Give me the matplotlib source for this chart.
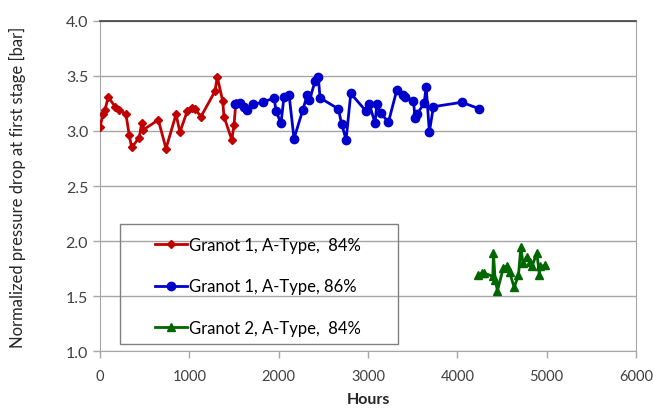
import matplotlib
matplotlib.use("Agg")
import matplotlib.pyplot as plt
from matplotlib.patches import Rectangle

plt.rcParams["font.family"] = ["Lato", "DejaVu Sans"]

# Granot 1, A-Type, 84%
red_hours = [0, 37, 56, 93, 168, 217, 291, 328, 355, 440, 467, 485, 653, 739,
             851, 895, 977, 1026, 1064, 1131, 1287, 1313, 1374, 1388, 1475, 1500,
             1520]
red_dp = [3.04, 3.15, 3.19, 3.31, 3.22, 3.19, 3.15, 2.96, 2.85, 2.94, 3.07, 3.01,
          3.10, 2.84, 3.15, 2.99, 3.18, 3.21, 3.20, 3.13, 3.36, 3.49, 3.27, 3.13,
          2.92, 3.05, 3.25]

# Granot 1, A-Type, 86%
blue_hours = [1511, 1567, 1613, 1649, 1716, 1822, 1950, 1970, 2026, 2060, 2116,
              2172, 2270, 2321, 2344, 2408, 2444, 2463, 2668, 2706, 2755, 2807,
              2978, 3016, 3079, 3099, 3143, 3229, 3322, 3389, 3415, 3509, 3527,
              3546, 3628, 3651, 3687, 3732, 4050, 4248]
blue_dp = [3.24, 3.25, 3.22, 3.19, 3.24, 3.26, 3.30, 3.18, 3.07, 3.31, 3.33,
           2.93, 3.19, 3.33, 3.28, 3.45, 3.49, 3.30, 3.20, 3.06, 2.92, 3.34,
           3.18, 3.24, 3.07, 3.24, 3.16, 3.08, 3.37, 3.33, 3.31, 3.27, 3.12,
           3.15, 3.25, 3.40, 2.99, 3.22, 3.26, 3.20]

# Granot 2, A-Type, 84%
green_hours = [4236, 4274, 4300, 4397, 4404, 4423, 4449, 4516, 4554, 4584, 4636,
               4684, 4711, 4734, 4778, 4808, 4834, 4890, 4919, 4927, 4983]
green_dp = [1.69, 1.71, 1.71, 1.68, 1.89, 1.65, 1.55, 1.76, 1.77, 1.72, 1.58,
            1.69, 1.95, 1.80, 1.86, 1.81, 1.77, 1.89, 1.69, 1.77, 1.78]

labels = ["Granot 1, A-Type,  84%", "Granot 1, A-Type, 86%", "Granot 2, A-Type,  84%"]


def main():
    fig = plt.figure(figsize=(6.53, 4.10), dpi=100)
    ax = fig.add_axes([0.1531, 0.1407, 0.974 - 0.1531, 0.947 - 0.1407])

    ax.plot(red_hours, red_dp, color="#C00000", lw=2.0, marker="D", ms=4,
            label=labels[0], zorder=3)
    ax.plot(blue_hours, blue_dp, color="#0000CC", lw=2.0, marker="o", ms=6,
            label=labels[1], zorder=3)
    ax.plot(green_hours, green_dp, color="#006600", lw=2.0, marker="^", ms=6,
            label=labels[2], zorder=3)

    ax.set_xlim(0, 6000)
    ax.set_ylim(1.0, 4.0)
    ax.set_xticks(range(0, 6001, 1000))
    ax.set_yticks([1.0, 1.5, 2.0, 2.5, 3.0, 3.5, 4.0])
    ax.set_yticklabels(["1.0", "1.5", "2.0", "2.5", "3.0", "3.5", "4.0"])
    ax.grid(axis="y", color="#A6A6A6", lw=1.0)
    ax.set_axisbelow(True)

    for side in ["left", "bottom", "right"]:
        ax.spines[side].set_color("#A6A6A6")
    ax.spines["top"].set_color("#404040")
    ax.spines["top"].set_linewidth(1.2)
    ax.tick_params(colors="#A6A6A6", labelcolor="#404040", labelsize=11.5,
                   length=5, width=1)
    ax.tick_params(axis="x", pad=8, labelsize=10.5)

    ax.set_xlabel("Hours", fontsize=11.5, fontweight="bold", color="#262626")
    ax.set_ylabel("Normalized pressure drop at first stage [bar]", fontsize=12,
                  color="#262626")
    ax.xaxis.set_label_coords(0.5, -0.122)
    ax.yaxis.set_label_coords(-0.138, 0.5)

    ax.add_patch(Rectangle((0.0373, 0.022), 0.519, 0.363, transform=ax.transAxes,
                           fill=False, edgecolor="#808080", lw=1.0, zorder=5))
    ax.legend(loc="upper left", bbox_to_anchor=(0.1026, 0.347), frameon=False,
              borderaxespad=0, borderpad=0, fontsize=12, labelspacing=1.55,
              handlelength=1.9, handletextpad=0.12)

    fig.savefig("out.png", dpi=100)
    plt.close(fig)


if __name__ == "__main__":
    main()
